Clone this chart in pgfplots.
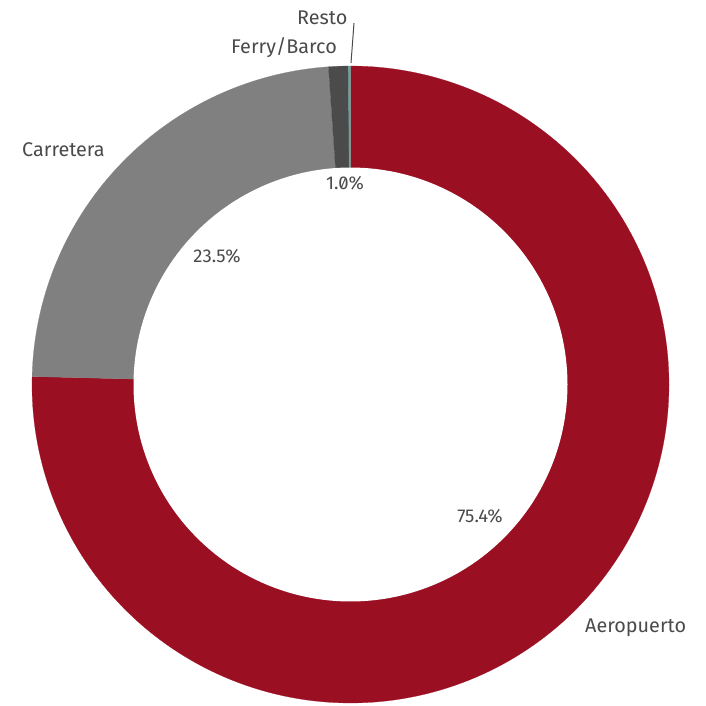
\documentclass[border=0pt]{standalone}
\usepackage{pgfplots}
\pgfplotsset{compat=1.18}
\usepackage{pgfplotstable}
\usepackage{fontspec}
\setmainfont{Fira Sans}[RawFeature=+zero]
\definecolor{aero}{HTML}{9B0F23}
\definecolor{carr}{HTML}{808080}
\definecolor{ferry}{HTML}{4B4B4B}
\definecolor{resto}{HTML}{5FA89C}
\definecolor{lbl}{HTML}{4A4A4A}
\begin{document}
\begin{tikzpicture}
\pgfplotstableread{
label value
Aeropuerto 75.4
Carretera 23.5
Ferry/Barco 1.0
Resto 0.1
}\datatable
\pgfplotstablegetelem{0}{value}\of\datatable \let\vA\pgfplotsretval
\pgfplotstablegetelem{1}{value}\of\datatable \let\vB\pgfplotsretval
\pgfplotstablegetelem{2}{value}\of\datatable \let\vC\pgfplotsretval
\pgfplotstablegetelem{3}{value}\of\datatable \let\vD\pgfplotsretval
\pgfmathsetmacro\total{\vA+\vB+\vC+\vD}
\pgfmathsetmacro\aO{90}
\pgfmathsetmacro\aA{90-\vA/\total*360}
\pgfmathsetmacro\aB{\aA-\vB/\total*360}
\pgfmathsetmacro\aC{\aB-\vC/\total*360}
\pgfmathsetmacro\aD{\aC-\vD/\total*360}
\def\cx{350.5}\def\cy{384.5}\def\R{318.5}\def\r{217}
\begin{axis}[
  scale only axis, width=706bp, height=706bp,
  xmin=0, xmax=706, ymin=0, ymax=706, y dir=reverse,
  hide axis, clip=false,
]
\addplot[fill=aero, draw=aero, line width=0.2pt, domain=\aA:\aO, samples=200, variable=\t]
  ({\cx+\R*cos(\t)},{\cy-\R*sin(\t)}) -- (axis cs:\cx,\cy) -- cycle;
\addplot[fill=carr, draw=carr, line width=0.2pt, domain=\aB:\aA, samples=100, variable=\t]
  ({\cx+\R*cos(\t)},{\cy-\R*sin(\t)}) -- (axis cs:\cx,\cy) -- cycle;
\addplot[fill=ferry, draw=ferry, line width=0.2pt, domain=\aC:\aB, samples=10, variable=\t]
  ({\cx+\R*cos(\t)},{\cy-\R*sin(\t)}) -- (axis cs:\cx,\cy) -- cycle;
\addplot[fill=resto, draw=resto, line width=0.2pt, domain=\aD:\aC, samples=5, variable=\t]
  ({\cx+\R*cos(\t)},{\cy-\R*sin(\t)}) -- (axis cs:\cx,\cy) -- cycle;
\addplot[fill=white, draw=none, domain=0:360, samples=200, variable=\t]
  ({\cx+\r*cos(\t)},{\cy-\r*sin(\t)}) -- cycle;
% outer labels
\node[anchor=base west, text=lbl, font=\fontsize{19.8bp}{23bp}\selectfont, inner sep=0pt] at (axis cs:585,632) {Aeropuerto};
\node[anchor=base west, text=lbl, font=\fontsize{19.8bp}{23bp}\selectfont, inner sep=0pt] at (axis cs:22,157) {Carretera};
\node[anchor=base west, text=lbl, font=\fontsize{19.8bp}{23bp}\selectfont, inner sep=0pt] at (axis cs:231,54) {Ferry/Barco};
\node[anchor=base west, text=lbl, font=\fontsize{19.8bp}{23bp}\selectfont, inner sep=0pt] at (axis cs:297,24.5) {Resto};
\draw[color=lbl, line width=1pt] (axis cs:351,63) -- (axis cs:354,23);
% inner labels
\node[anchor=base, text=lbl, font=\fontsize{18.5bp}{21bp}\selectfont, inner sep=0pt] at (axis cs:345,190) {1.0\%};
\node[anchor=base, text=lbl, font=\fontsize{18.5bp}{21bp}\selectfont, inner sep=0pt] at (axis cs:217,262) {23.5\%};
\node[anchor=base, text=lbl, font=\fontsize{18.5bp}{21bp}\selectfont, inner sep=0pt] at (axis cs:480,522) {75.4\%};
\end{axis}
\pgfresetboundingbox
\path (current axis.south west) rectangle (current axis.north east);
\end{tikzpicture}
\end{document}
